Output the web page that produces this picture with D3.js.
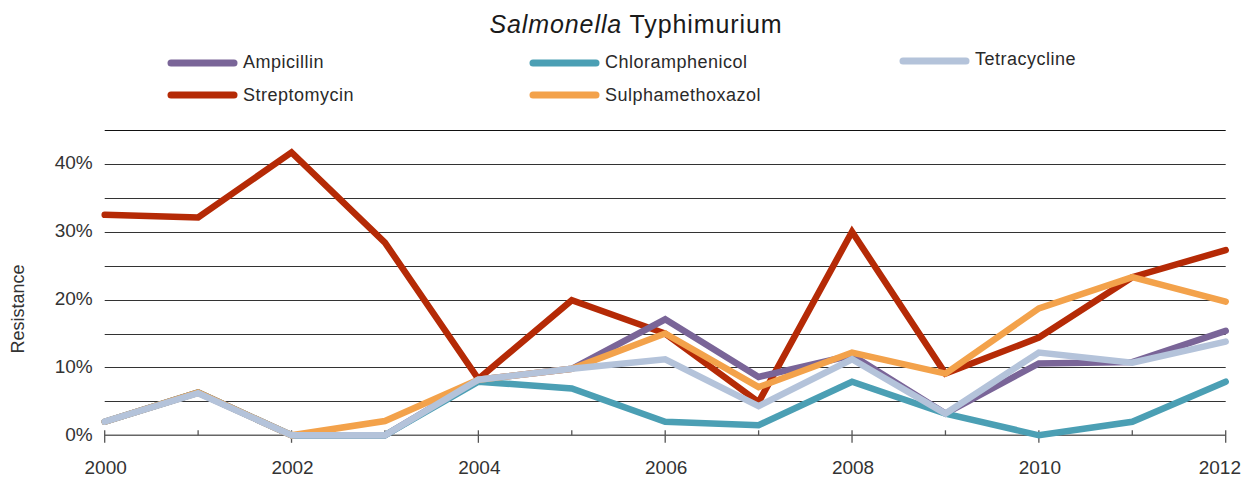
<!DOCTYPE html>
<html>
<head>
<meta charset="utf-8">
<script src="https://cdn.jsdelivr.net/npm/d3@7"></script>
<style>
  html, body { margin: 0; padding: 0; background: #fff; }
  svg { display: block; font-family: "Liberation Sans", Arial, sans-serif; }
</style>
</head>
<body>
<svg id="chart" width="1250" height="477"></svg>
<script>
// Resistance (%) of Salmonella Typhimurium isolates, 2000–2012
const years = [2000, 2001, 2002, 2003, 2004, 2005, 2006, 2007, 2008, 2009, 2010, 2011, 2012];
const ampicillin       = [2.0, 6.3, 0, 0, 8.2, 9.8, 17.1, 8.6, 11.8, 3.2, 10.6, 10.8, 15.4];
const streptomycin     = [32.5, 32.1, 41.7, 28.4, 8.3, 19.9, 15.0, 4.9, 30.0, 9.1, 14.4, 23.3, 27.3];
const chloramphenicol  = [2.0, 6.3, 0, 0, 7.9, 6.9, 2.0, 1.5, 7.9, 3.2, 0, 2.0, 7.9];
const sulphamethoxazol = [2.0, 6.3, 0, 2.1, 8.2, 9.8, 15.0, 7.1, 12.2, 9.1, 18.7, 23.3, 19.7];
const tetracycline     = [2.0, 6.2, 0, 0, 8.2, 9.8, 11.2, 4.3, 11.2, 3.2, 12.2, 10.7, 13.8];

const seriesNames  = ["Ampicillin", "Streptomycin", "Chloramphenicol", "Sulphamethoxazol", "Tetracycline"];
const seriesValues = [ampicillin, streptomycin, chloramphenicol, sulphamethoxazol, tetracycline];
const seriesColors = ["#7a6598", "#b52a06", "#4b9fb4", "#f3a24b", "#b4c3da"];
// stacking order of the lines (bottom first)
const drawOrder = [1, 0, 2, 3, 4];

const gridValues  = [0, 5, 10, 15, 20, 25, 30, 35, 40, 45];
const yTickValues = [0, 10, 20, 30, 40];
const xLabelYears = [2000, 2002, 2004, 2006, 2008, 2010, 2012];

const svg = d3.select("#chart");

const x = d3.scaleLinear().domain([2000, 2012]).range([104.7, 1225.7]);
const y = d3.scaleLinear().domain([0, 45]).range([435.3, 130]);

// Title
const title = svg.append("text")
  .attr("x", 636).attr("y", 33)
  .attr("text-anchor", "middle")
  .style("font-size", "25px")
  .style("letter-spacing", "0.9px")
  .attr("fill", "#1a1a1a");
title.append("tspan").style("font-style", "italic").text("Salmonella");
title.append("tspan").text(" Typhimurium");

// Legend
const legendItems = [
  { i: 0, x: 168, y: 63,  ty: 68 },
  { i: 2, x: 530, y: 63,  ty: 68 },
  { i: 4, x: 900, y: 61,  ty: 65 },
  { i: 1, x: 168, y: 95,  ty: 101 },
  { i: 3, x: 530, y: 95,  ty: 101 }
];
const legend = svg.append("g").attr("class", "legend");
legendItems.forEach(d => {
  legend.append("line")
    .attr("x1", d.x + 3).attr("x2", d.x + 66)
    .attr("y1", d.y).attr("y2", d.y)
    .attr("stroke", seriesColors[d.i])
    .attr("stroke-width", 7)
    .attr("stroke-linecap", "round");
  legend.append("text")
    .attr("x", d.x + 75).attr("y", d.ty)
    .style("font-size", "18px")
    .style("letter-spacing", "0.5px")
    .attr("fill", "#2a2a2a")
    .text(seriesNames[d.i]);
});

// Horizontal gridlines
svg.append("g").attr("class", "grid")
  .selectAll("line")
  .data(gridValues.filter(v => v > 0))
  .join("line")
  .attr("x1", x(2000)).attr("x2", x(2012))
  .attr("y1", d => Math.round(y(d)) + 0.5).attr("y2", d => Math.round(y(d)) + 0.5)
  .attr("stroke", d => d === 45 ? "#111" : "#333")
  .attr("stroke-width", 1.2);

// Y-axis tick labels
const yAxis = d3.axisLeft(y)
  .tickValues(yTickValues)
  .tickSize(0)
  .tickPadding(12)
  .tickFormat(d => d + "%");
svg.append("g")
  .attr("transform", `translate(${x(2000)},0)`)
  .call(yAxis)
  .call(g => g.select(".domain").remove())
  .call(g => g.selectAll("text")
    .style("font-size", "19px")
    .style("font-family", "'Liberation Sans', Arial, sans-serif")
    .attr("fill", "#333")
    .attr("dy", "0.25em"));

// Y-axis title
svg.append("text")
  .attr("transform", "translate(24,309) rotate(-90)")
  .attr("text-anchor", "middle")
  .style("font-size", "18px")
  .attr("fill", "#333")
  .text("Resistance");

// X axis: baseline, yearly ticks, labels every second year
const xAxisG = svg.append("g").attr("class", "x-axis");
xAxisG.append("line")
  .attr("x1", x(2000)).attr("x2", x(2012))
  .attr("y1", y(0)).attr("y2", y(0))
  .attr("stroke", "#666").attr("stroke-width", 1.5);
xAxisG.selectAll("line.tick")
  .data(years)
  .join("line")
  .attr("class", "tick")
  .attr("x1", d => x(d)).attr("x2", d => x(d))
  .attr("y1", y(0) - 5)
  .attr("y2", d => d % 2 === 0 ? y(0) + 7.5 : y(0))
  .attr("stroke", "#555").attr("stroke-width", 1.3);
xAxisG.selectAll("text")
  .data(xLabelYears)
  .join("text")
  .attr("x", d => d === 2012 ? 1241 : x(d) + 1)
  .attr("y", 474)
  .attr("text-anchor", d => d === 2012 ? "end" : "middle")
  .style("font-size", "19px")
  .attr("fill", "#333")
  .text(d => d);

// Series lines
const line = d3.line()
  .x((d, i) => x(years[i]))
  .y(d => y(d));

svg.append("g").attr("class", "series")
  .selectAll("path")
  .data(drawOrder)
  .join("path")
  .attr("d", i => line(seriesValues[i]))
  .attr("fill", "none")
  .attr("stroke", i => seriesColors[i])
  .attr("stroke-width", 6.5)
  .attr("stroke-linecap", "round")
  .attr("stroke-linejoin", "miter")
  .attr("stroke-miterlimit", 4);
</script>
</body>
</html>
